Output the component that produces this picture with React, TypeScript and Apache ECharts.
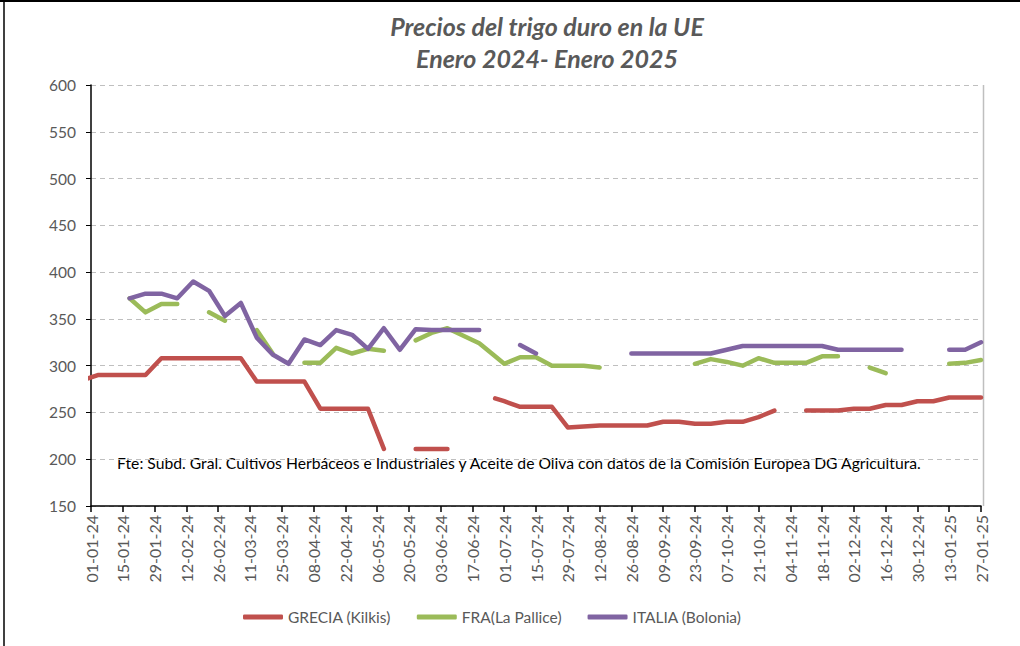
import React, { useEffect, useRef } from "react";
import * as echarts from "echarts";

const dates: string[] = [
  "28-12-23", "04-01-24", "11-01-24", "18-01-24", "25-01-24", "01-02-24", "08-02-24", "15-02-24",
  "22-02-24", "29-02-24", "07-03-24", "14-03-24", "21-03-24", "28-03-24", "04-04-24", "11-04-24",
  "18-04-24", "25-04-24", "02-05-24", "09-05-24", "16-05-24", "23-05-24", "30-05-24", "06-06-24",
  "13-06-24", "20-06-24", "27-06-24",
  "01-07-24", "08-07-24", "15-07-24", "22-07-24", "29-07-24", "05-08-24", "12-08-24", "19-08-24",
  "26-08-24", "02-09-24", "09-09-24", "16-09-24", "23-09-24", "30-09-24", "07-10-24", "14-10-24",
  "21-10-24", "28-10-24", "04-11-24", "11-11-24", "18-11-24", "25-11-24", "02-12-24", "09-12-24",
  "16-12-24", "23-12-24", "30-12-24", "06-01-25", "13-01-25", "20-01-25", "27-01-25",
];

const grecia: (number | null)[] = [
  284, 290, 290, 290, 290, 308, 308, 308, 308, 308, 308, 283, 283, 283, 283, 254, 254, 254, 254, 211,
  null, 211, 211, 211, null, null, 265,
  262, 256, 256, 256, 234, 235, 236, 236, 236, 236, 240, 240, 238, 238, 240, 240, 245, 252, null,
  252, 252, 252, 254, 254, 258, 258, 262, 262, 266, 266, 266,
];

const francia: (number | null)[] = [
  null, null, null, 372, 357, 366, 366, null, 357, 348, null, 338, 313, null, 303, 303, 319, 313, 318,
  316, null, 327, 335, 340, 332, 324, 310,
  302, 309, 309, 300, 300, 300, 298, null, null, null, null, null, 302, 307, 304, 300, 308, 303, 303,
  303, 310, 310, null, 298, 292, null, null, null, 302, 303, 306,
];

const italia: (number | null)[] = [
  null, null, null, 372, 377, 377, 372, 390, 380, 353, 367, 330, 312, 302, 328, 322, 338, 333, 318,
  340, 317, 339, 338, 338, 338, 338, null,
  null, 322, 313, null, null, null, null, null, 313, 313, 313, 313, 313, 313, 317, 321, 321, 321, 321,
  321, 321, 317, 317, 317, 317, 317, null, null, 317, 317, 325,
];

const tickLabels: string[] = [
  "01-01-24", "15-01-24", "29-01-24", "12-02-24", "26-02-24", "11-03-24", "25-03-24", "08-04-24",
  "22-04-24", "06-05-24", "20-05-24", "03-06-24", "17-06-24", "01-07-24", "15-07-24", "29-07-24",
  "12-08-24", "26-08-24", "09-09-24", "23-09-24", "07-10-24", "21-10-24", "04-11-24", "18-11-24",
  "02-12-24", "16-12-24", "30-12-24", "13-01-25", "27-01-25",
];

const seriesNames = ["GRECIA (Kilkis)", "FRA(La Pallice)", "ITALIA (Bolonia)"];
const seriesColors = ["#C0504D", "#9BBB59", "#8064A2"];
const titleLines = ["Precios del trigo duro en la UE", "Enero 2024- Enero 2025"];
const sourceNote =
  "Fte: Subd. Gral. Cultivos Herbáceos e Industriales y Aceite de Oliva con datos de la Comisión Europea DG Agricultura.";

const FONT = "Lato, 'Open Sans', sans-serif";

function dayOffset(s: string): number {
  const [d, m, y] = s.split("-").map(Number);
  return Math.round((Date.UTC(2000 + y, m - 1, d) - Date.UTC(2024, 0, 1)) / 86400000);
}

export default function App() {
  const ref = useRef<HTMLDivElement>(null);
  useEffect(() => {
    if (!ref.current) return;
    const chart = echarts.init(ref.current, undefined, { renderer: "svg" });
    const xs = dates.map(dayOffset);
    const mk = (vals: (number | null)[]) => vals.map((v, i) => [xs[i], v === null ? "-" : v]);
    const all = [grecia, francia, italia];
    chart.setOption({
      animation: false,
      backgroundColor: "#ffffff",
      grid: { left: 91, right: 39, top: 85, bottom: 140, containLabel: false },
      xAxis: {
        type: "value",
        min: 0,
        max: 392,
        interval: 14,
        axisLine: { show: true, onZero: false, lineStyle: { color: "#000000", width: 1.5 } },
        axisTick: { show: true, length: 6, lineStyle: { color: "#000000", width: 1.5 } },
        splitLine: { show: false },
        axisLabel: {
          rotate: 90,
          margin: 9,
          color: "#595959",
          fontFamily: FONT,
          fontSize: 16,
          formatter: (v: number) => tickLabels[Math.round(v / 14)] ?? "",
        },
      },
      yAxis: {
        type: "value",
        min: 150,
        max: 600,
        interval: 50,
        axisLine: { show: true, lineStyle: { color: "#000000", width: 1.5 } },
        axisTick: { show: true, length: 5, lineStyle: { color: "#000000" } },
        splitLine: { show: true, lineStyle: { color: "#BFBFBF", type: [5, 4], width: 1.2 } },
        axisLabel: { color: "#595959", fontFamily: FONT, fontSize: 15.5, margin: 15 },
      },
      legend: {
        left: 238,
        top: 604,
        icon: "roundRect",
        itemWidth: 40,
        itemHeight: 5,
        itemGap: 26,
        textStyle: { color: "#595959", fontFamily: FONT, fontSize: 15.5 },
        data: seriesNames,
      },
      series: all.map((vals, i) => ({
        name: seriesNames[i],
        type: "line",
        data: mk(vals),
        showSymbol: false,
        symbol: "none",
        connectNulls: false,
        clip: true,
        color: seriesColors[i],
        lineStyle: { color: seriesColors[i], width: 4.5, cap: "round", join: "round" },
      })),
      graphic: [
        { type: "line", shape: { x1: 0, y1: 1, x2: 1020, y2: 1 }, style: { stroke: "#000", lineWidth: 2 } },
        { type: "line", shape: { x1: 4, y1: 0, x2: 4, y2: 646 }, style: { stroke: "#000", lineWidth: 1.5 } },
        { type: "line", shape: { x1: 983.5, y1: 85, x2: 983.5, y2: 506 }, style: { stroke: "#BFBFBF", lineWidth: 1.5 } },
        {
          type: "text",
          x: 547,
          y: 26,
          style: {
            text: titleLines[0],
            fill: "#595959",
            font: `italic bold 25px ${FONT}`,
            textAlign: "center",
            textVerticalAlign: "middle",
          },
        },
        {
          type: "text",
          x: 547,
          y: 58,
          style: {
            text: titleLines[1],
            fill: "#595959",
            font: `italic bold 25px ${FONT}`,
            textAlign: "center",
            textVerticalAlign: "middle",
          },
        },
        {
          type: "text",
          x: 117,
          y: 463,
          style: {
            text: sourceNote,
            fill: "#000000",
            font: `15.7px ${FONT}`,
            textAlign: "left",
            textVerticalAlign: "middle",
          },
        },
      ],
    });
    return () => chart.dispose();
  }, []);
  return (
    <div
      ref={ref}
      style={{ position: "fixed", left: 0, top: 0, width: 1020, height: 646, background: "#fff" }}
    />
  );
}
